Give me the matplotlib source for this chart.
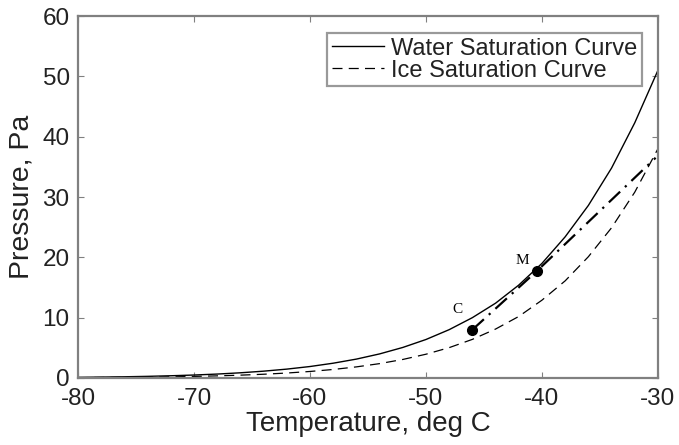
import matplotlib
matplotlib.use("Agg")
import matplotlib.pyplot as plt

# Temperatures (deg C) and pressures (Pa)
temps = [-80, -78, -76, -74, -72, -70, -68, -66, -64, -62, -60, -58, -56,
         -54, -52, -50, -48, -46, -44, -42, -40, -38, -36, -34, -32, -30]
water_p = [0.11, 0.15, 0.20, 0.27, 0.37, 0.49, 0.65, 0.86, 1.13, 1.47, 1.90,
           2.45, 3.13, 3.99, 5.06, 6.38, 8.01, 10.0, 12.4, 15.4, 19.0, 23.4,
           28.6, 34.8, 42.3, 51.0]
ice_p = [0.05, 0.08, 0.10, 0.14, 0.19, 0.26, 0.35, 0.47, 0.62, 0.82, 1.08,
         1.41, 1.84, 2.38, 3.07, 3.94, 5.03, 6.40, 8.11, 10.2, 12.9, 16.1,
         20.1, 24.9, 30.8, 38.0]
path_t = [-46.0, -40.4, -30.2]
path_p = [8.0, 17.8, 36.5]
point_labels = ["C", "M"]
point_t = [-46.0, -40.4]
point_p = [8.0, 17.8]
label_t = [-47.3, -41.7]
label_p = [11.3, 19.4]

xticks = [-80, -70, -60, -50, -40, -30]
yticks = [0, 10, 20, 30, 40, 50, 60]

plt.rcParams['font.family'] = ['Liberation Sans', 'DejaVu Sans']

fig = plt.figure(figsize=(6.79, 4.45), dpi=100)
ax = fig.add_axes([0.1149, 0.1506, 0.969 - 0.1149, 0.964 - 0.1506])

ax.plot(temps, water_p, color='black', lw=1.0, label='Water Saturation Curve')
ax.plot(temps, ice_p, color='black', lw=0.9, dashes=(8, 5),
        label='Ice Saturation Curve')
ax.plot(path_t, path_p, color='black', lw=1.6, dashes=(7, 3, 1, 3))
ax.plot(point_t, point_p, 'o', color='black', markersize=7)
for lab, tx, ty in zip(point_labels, label_t, label_p):
    ax.text(tx, ty, lab, family='Liberation Serif', fontsize=11,
            ha='center', va='center')

ax.set_xlim(-80, -30)
ax.set_ylim(0, 60)
ax.set_xticks(xticks)
ax.set_yticks(yticks)
ax.set_xticklabels([str(t) for t in xticks])
ax.tick_params(direction='in', length=4, width=0.8, top=True, right=True,
               labelsize=17.5, colors='#808080', labelcolor='#222222')
ax.tick_params(axis='x', pad=7)
ax.tick_params(axis='y', pad=6)
for s in ax.spines.values():
    s.set_color('#808080')
    s.set_linewidth(1.6)

ax.set_xlabel('Temperature, deg C', fontsize=20, labelpad=1, color='#222222')
ax.set_ylabel('Pressure, Pa', fontsize=20.5, labelpad=6, color='#222222')

leg = ax.legend(loc='upper right', bbox_to_anchor=(0.972, 0.953),
                fontsize=17, frameon=True, fancybox=False, handlelength=2.2,
                handletextpad=0.3, borderpad=0.2, labelspacing=0.0,
                borderaxespad=0.0)
leg.get_frame().set_edgecolor('#808080')
leg.get_frame().set_linewidth(1.6)
for t in leg.get_texts():
    t.set_color('#222222')

fig.savefig('out.png', dpi=100)
